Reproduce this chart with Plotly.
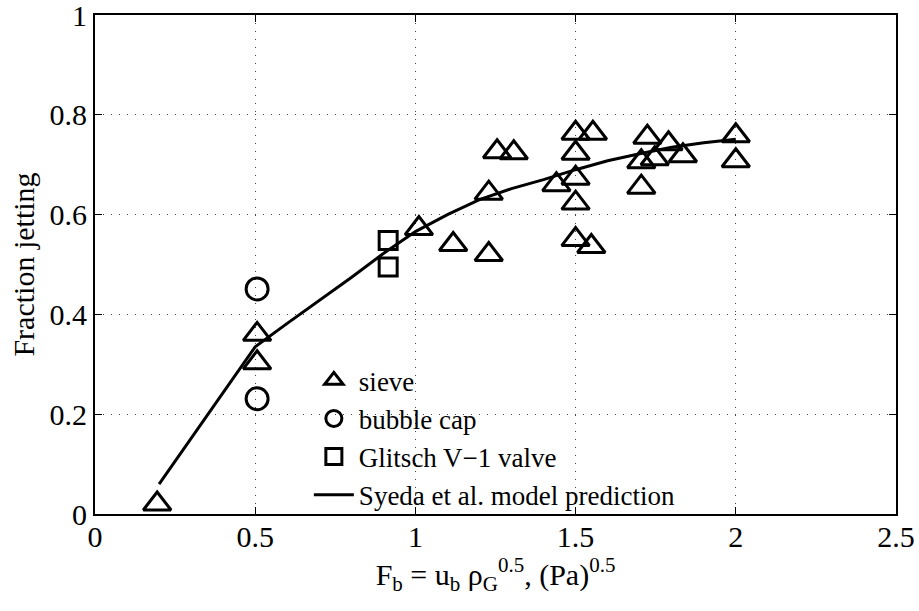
import plotly.graph_objects as go

# Data
sieve_x = [0.194, 0.506, 0.506, 1.011, 1.118, 1.229, 1.229, 1.255, 1.307, 1.44,
           1.50, 1.554, 1.50, 1.50, 1.50, 1.50, 1.549, 1.724, 1.79, 1.835,
           1.705, 1.747, 1.705, 2.0, 2.0]
sieve_y = [0.02, 0.36, 0.303, 0.572, 0.54, 0.52, 0.643, 0.726, 0.724, 0.66,
           0.763, 0.763, 0.723, 0.673, 0.623, 0.55, 0.536, 0.755, 0.742, 0.718,
           0.706, 0.712, 0.655, 0.758, 0.708]

cap_x = [0.506, 0.506]
cap_y = [0.451, 0.231]

valve_x = [0.915, 0.915]
valve_y = [0.548, 0.495]

model_x = [0.2, 0.5, 0.6, 0.7, 0.8, 0.9, 1.0, 1.1, 1.2, 1.3, 1.4, 1.5, 1.6, 1.7, 1.8, 1.9, 2.0]
model_y = [0.06, 0.335, 0.382, 0.428, 0.474, 0.522, 0.566, 0.600, 0.630, 0.652, 0.670,
           0.690, 0.708, 0.722, 0.735, 0.744, 0.751]

x_ticks = [0, 0.5, 1, 1.5, 2, 2.5]
x_ticktext = ["0", "0.5", "1", "1.5", "2", "2.5"]
y_ticks = [0, 0.2, 0.4, 0.6, 0.8, 1]
y_ticktext = ["0", "0.2", "0.4", "0.6", "0.8", "1"]

FONT = "Liberation Serif"

fig = go.Figure()
fig.add_trace(go.Scatter(
    x=sieve_x, y=sieve_y, mode="markers", name="sieve",
    marker=dict(symbol="triangle-up-open", size=24, color="black",
                line=dict(width=3, color="black")),
))
fig.add_trace(go.Scatter(
    x=cap_x, y=cap_y, mode="markers", name="bubble cap",
    marker=dict(symbol="circle-open", size=22, color="black",
                line=dict(width=3, color="black")),
))
fig.add_trace(go.Scatter(
    x=valve_x, y=valve_y, mode="markers", name="Glitsch V\u22121 valve",
    marker=dict(symbol="square-open", size=18, color="black",
                line=dict(width=3, color="black")),
))
fig.add_trace(go.Scatter(
    x=model_x, y=model_y, mode="lines", name="Syeda et al. model prediction",
    line=dict(color="black", width=3),
))

axis_common = dict(
    showline=True, linecolor="black", linewidth=2, mirror="ticks",
    ticks="inside", ticklen=7, tickwidth=1, tickcolor="black",
    showgrid=True, gridcolor="#444444", griddash="1px,7px", gridwidth=1,
    zeroline=False, tickfont=dict(family=FONT, size=30, color="black"),
    ticklabeloverflow="allow", automargin=False,
)

fig.update_layout(
    width=919, height=611,
    margin=dict(l=95, r=23, t=15, b=97, autoexpand=False),
    paper_bgcolor="white", plot_bgcolor="white",
    font=dict(family=FONT, color="black"),
    showlegend=True,
    legend=dict(
        x=0.267, y=0.316, xanchor="left", yanchor="top",
        bgcolor="rgba(0,0,0,0)", borderwidth=0,
        font=dict(family=FONT, size=27, color="black"),
        itemwidth=40,
    ),
    xaxis=dict(
        range=[0, 2.5], tickvals=x_ticks, ticktext=x_ticktext,
        ticklabelstandoff=-5,
        title=dict(text="F<sub>b</sub> = u<sub>b</sub> \u03c1<sub>G</sub><sup>0.5</sup>, (Pa)<sup>0.5</sup>",
                   font=dict(family=FONT, size=30, color="black"), standoff=4),
        **axis_common,
    ),
    yaxis=dict(
        range=[0, 1], tickvals=y_ticks, ticktext=y_ticktext,
        title=dict(text="Fraction jetting",
                   font=dict(family=FONT, size=30, color="black"), standoff=6),
        **axis_common,
    ),
)

fig.write_html("out.html")
